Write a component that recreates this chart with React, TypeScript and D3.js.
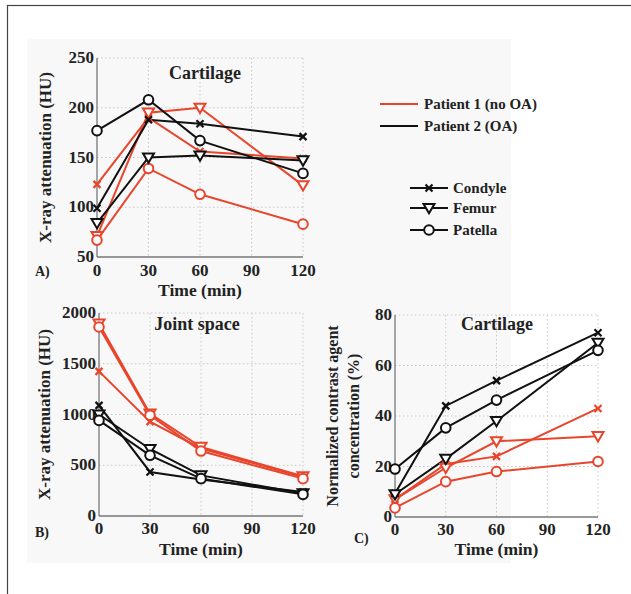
import React from "react";
import * as d3 from "d3";

const times = [0, 30, 60, 120];
const xTicks = [0, 30, 60, 90, 120];

// Panel A: cartilage attenuation (HU)
const aP1Condyle = [123, 190, 156, 149];
const aP1Femur = [71, 195, 200, 122];
const aP1Patella = [67, 139, 113, 83];
const aP2Condyle = [99, 188, 184, 171];
const aP2Femur = [84, 150, 152, 147];
const aP2Patella = [177, 208, 167, 134];
const aTicks = [50, 100, 150, 200, 250];

// Panel B: joint space attenuation (HU)
const bP1Condyle = [1425, 930, 665, 384];
const bP1Femur = [1895, 1008, 680, 391];
const bP1Patella = [1862, 992, 640, 368];
const bP2Condyle = [1090, 434, 360, 236];
const bP2Femur = [1000, 660, 400, 222];
const bP2Patella = [942, 598, 368, 213];
const bTicks = [0, 500, 1000, 1500, 2000];

// Panel C: normalized contrast agent concentration (%)
const cP1Condyle = [7, 21, 24, 43];
const cP1Femur = [7, 19.5, 30, 32];
const cP1Patella = [3.6, 14, 18, 22];
const cP2Condyle = [9.3, 44, 54, 73];
const cP2Femur = [9, 23, 38, 69];
const cP2Patella = [19, 35.3, 46.3, 66];
const cTicks = [0, 20, 40, 60, 80];

const RED = "#e8452c";
const BLACK = "#111";
const FONT = "'Liberation Serif', 'DejaVu Serif', serif";

type Shape = "x" | "tri" | "circ";

function Marker({ x, y, shape, color }: { x: number; y: number; shape: Shape; color: string }) {
  if (shape === "circ")
    return <circle cx={x} cy={y} r={4.8} fill="white" stroke={color} strokeWidth={2} />;
  if (shape === "tri") {
    const s = 5.5;
    return (
      <path
        d={`M${x - s},${y - s * 0.75} L${x + s},${y - s * 0.75} L${x},${y + s * 0.95} Z`}
        fill="white"
        stroke={color}
        strokeWidth={2}
      />
    );
  }
  const s = 3.5;
  return (
    <path
      d={`M${x - s},${y - s} L${x + s},${y + s} M${x - s},${y + s} L${x + s},${y - s}`}
      stroke={color}
      strokeWidth={2.2}
    />
  );
}

type Series = { values: number[]; color: string; shape: Shape };

function Panel(props: {
  x0: number; x1: number; yTop: number; yBot: number;
  domain: [number, number]; ticks: number[];
  series: Series[]; title: string; titleX: number; titleY: number;
  letter: string; letterX: number; letterY: number;
  ylabel: string[]; ylabelX: number[]; ylabelSize: number;
  tickDy: number; timeDy: number;
}) {
  const xs = d3.scaleLinear().domain([0, 120]).range([props.x0, props.x1]);
  const ys = d3.scaleLinear().domain(props.domain).range([props.yBot, props.yTop]);
  const line = d3.line<number>().x((_, i) => xs(times[i])).y((d) => ys(d));
  const midY = (props.yTop + props.yBot) / 2;
  return (
    <g fontFamily={FONT}>
      {xTicks.slice(1).map((t) => (
        <line key={"gx" + t} x1={xs(t)} x2={xs(t)} y1={props.yTop} y2={props.yBot}
          stroke="#c8c8c8" strokeWidth={1} strokeDasharray="1.5,2.5" />
      ))}
      {props.ticks.slice(1).map((t) => (
        <line key={"gy" + t} x1={props.x0} x2={props.x1} y1={ys(t)} y2={ys(t)}
          stroke="#c8c8c8" strokeWidth={1} strokeDasharray="1.5,2.5" />
      ))}
      <line x1={props.x0} x2={props.x0} y1={props.yTop} y2={props.yBot} stroke="#777" strokeWidth={1.3} />
      <line x1={props.x0} x2={props.x1} y1={props.yBot} y2={props.yBot} stroke="#777" strokeWidth={1.3} />
      {props.ticks.map((t) => (
        <text key={"ty" + t} x={props.x0 - 3} y={ys(t) + 5} textAnchor="end" fontSize={17} fontWeight="bold" fill="#222">{t}</text>
      ))}
      {xTicks.map((t) => (
        <text key={"tx" + t} x={xs(t)} y={props.yBot + props.tickDy} textAnchor="middle" fontSize={17} fontWeight="bold" fill="#222">{t}</text>
      ))}
      <text x={(props.x0 + props.x1) / 2} y={props.yBot + props.timeDy} textAnchor="middle" fontSize={17.5} fontWeight="bold" fill="#222">Time (min)</text>
      <text x={props.titleX} y={props.titleY} textAnchor="middle" fontSize={18} fontWeight="bold" fill="#222">{props.title}</text>
      <text x={props.letterX} y={props.letterY} fontSize={14} fontWeight="bold" fill="#222">{props.letter}</text>
      {props.ylabel.map((l, i) => (
        <text key={l} transform={`translate(${props.ylabelX[i]},${midY}) rotate(-90)`} textAnchor="middle"
          fontSize={props.ylabelSize} fontWeight="bold" fill="#222">{l}</text>
      ))}
      {props.series.map((s, i) => (
        <path key={"l" + i} d={line(s.values) || ""} fill="none" stroke={s.color} strokeWidth={2} />
      ))}
      {props.series.map((s, i) => (
        <g key={"m" + i}>
          {s.values.map((v, j) => (
            <Marker key={j} x={xs(times[j])} y={ys(v)} shape={s.shape} color={s.color} />
          ))}
        </g>
      ))}
    </g>
  );
}

export default function App() {
  const seriesA: Series[] = [
    { values: aP1Condyle, color: RED, shape: "x" },
    { values: aP1Femur, color: RED, shape: "tri" },
    { values: aP1Patella, color: RED, shape: "circ" },
    { values: aP2Condyle, color: BLACK, shape: "x" },
    { values: aP2Femur, color: BLACK, shape: "tri" },
    { values: aP2Patella, color: BLACK, shape: "circ" },
  ];
  const seriesB: Series[] = [
    { values: bP1Condyle, color: RED, shape: "x" },
    { values: bP1Femur, color: RED, shape: "tri" },
    { values: bP1Patella, color: RED, shape: "circ" },
    { values: bP2Condyle, color: BLACK, shape: "x" },
    { values: bP2Femur, color: BLACK, shape: "tri" },
    { values: bP2Patella, color: BLACK, shape: "circ" },
  ];
  const seriesC: Series[] = [
    { values: cP1Condyle, color: RED, shape: "x" },
    { values: cP1Femur, color: RED, shape: "tri" },
    { values: cP1Patella, color: RED, shape: "circ" },
    { values: cP2Condyle, color: BLACK, shape: "x" },
    { values: cP2Femur, color: BLACK, shape: "tri" },
    { values: cP2Patella, color: BLACK, shape: "circ" },
  ];
  const markerLegend: { label: string; shape: Shape; y: number }[] = [
    { label: "Condyle", shape: "x", y: 188 },
    { label: "Femur", shape: "tri", y: 208 },
    { label: "Patella", shape: "circ", y: 230 },
  ];
  return (
    <svg width={631} height={594} style={{ position: "absolute", left: 0, top: 0, background: "white" }}>
      <rect x={7.5} y={5.5} width={640} height={600} fill="white" stroke="#444" strokeWidth={1.2} />
      <rect x={27} y={39} width={484} height={524} fill="#f8f8f8" />
      <Panel x0={97} x1={303} yTop={58} yBot={257} domain={[50, 250]} ticks={aTicks}
        series={seriesA} title="Cartilage" titleX={205} titleY={79}
        letter="A)" letterX={35} letterY={276}
        ylabel={["X-ray attenuation (HU)"]} ylabelX={[51]} ylabelSize={17}
        tickDy={19} timeDy={39} />
      <Panel x0={99} x1={303} yTop={313} yBot={516} domain={[0, 2000]} ticks={bTicks}
        series={seriesB} title="Joint space" titleX={197} titleY={330}
        letter="B)" letterX={35} letterY={537}
        ylabel={["X-ray attenuation (HU)"]} ylabelX={[50]} ylabelSize={17}
        tickDy={18} timeDy={38.5} />
      <Panel x0={395} x1={598} yTop={315} yBot={517} domain={[0, 80]} ticks={cTicks}
        series={seriesC} title="Cartilage" titleX={497} titleY={330}
        letter="C)" letterX={354} letterY={543}
        ylabel={["Normalized contrast agent", "concentration (%)"]} ylabelX={[338, 359]} ylabelSize={16}
        tickDy={18} timeDy={38} />
      <g fontFamily={FONT} fontSize={15} fontWeight="bold" fill="#222">
        <line x1={380} x2={418} y1={104} y2={104} stroke={RED} strokeWidth={2} />
        <text x={424} y={109}>Patient 1 (no OA)</text>
        <line x1={380} x2={418} y1={126} y2={126} stroke={BLACK} strokeWidth={2} />
        <text x={424} y={131}>Patient 2 (OA)</text>
        {markerLegend.map((m) => (
          <g key={m.label}>
            <line x1={410} x2={448} y1={m.y} y2={m.y} stroke={BLACK} strokeWidth={2} />
            <Marker x={429} y={m.y} shape={m.shape} color={BLACK} />
            <text x={453} y={m.y + 5}>{m.label}</text>
          </g>
        ))}
      </g>
    </svg>
  );
}
